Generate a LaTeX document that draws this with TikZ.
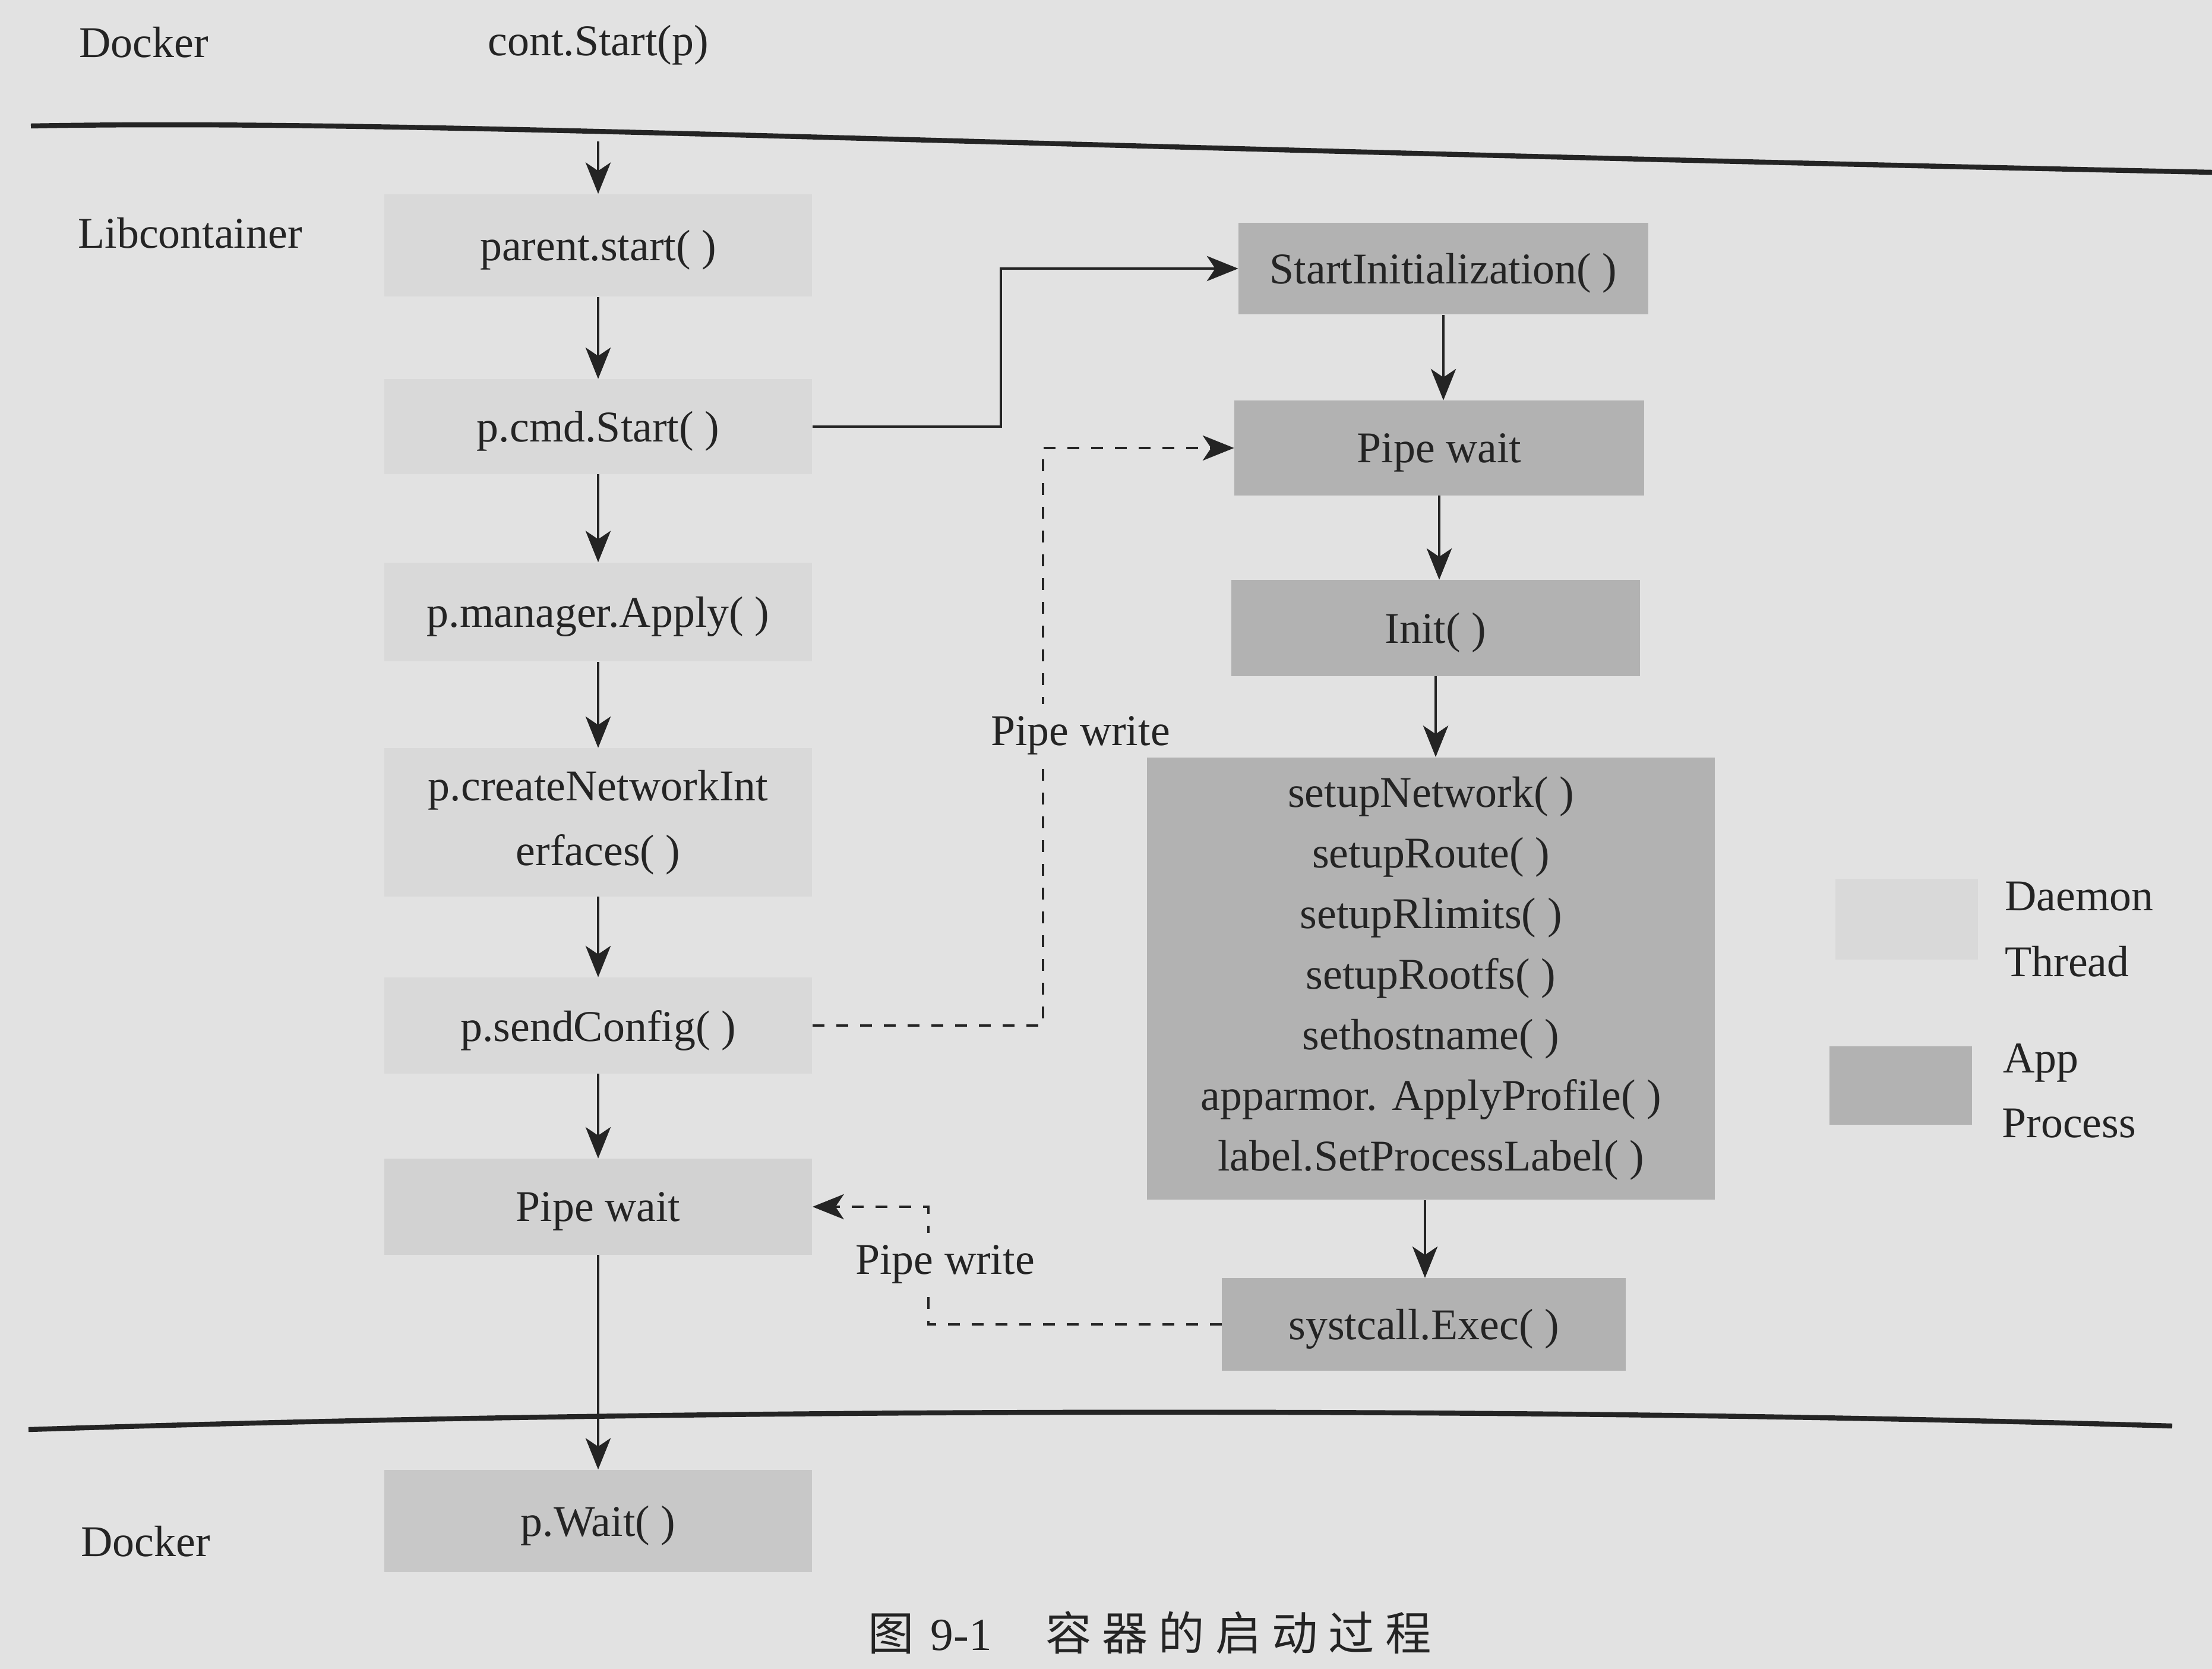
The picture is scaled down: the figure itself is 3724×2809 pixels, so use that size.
\documentclass[tikz,border=0pt]{standalone}
\usepackage{fontspec}
\setmainfont{Liberation Serif}
\newfontfamily\cjk{Noto Sans CJK SC}
\usetikzlibrary{arrows.meta}
\definecolor{paper}{RGB}{226,226,226}
\definecolor{appgray}{RGB}{178,178,178}
\definecolor{dmngray}{RGB}{217,217,217}
\definecolor{waitgray}{RGB}{210,210,210}
\definecolor{pwgray}{RGB}{200,200,200}
\definecolor{ink}{RGB}{36,36,36}
\pgfdeclarelayer{paperlayer}
\pgfdeclarelayer{connlayer}
\pgfdeclarelayer{lbllayer}
\pgfsetlayers{paperlayer,connlayer,lbllayer,main}
\begin{document}
\begin{tikzpicture}[x=0.01cm,y=-0.01cm,
  every node/.style={font=\fontsize{21}{29}\selectfont, text=ink},
  appbox/.style={fill=appgray, inner sep=0pt, text depth=0pt},
  dmnbox/.style={fill=dmngray, inner sep=0pt, text depth=0pt},
  arr/.style={draw=ink, line width=1.3pt, -{Stealth[length=15pt,width=12pt,inset=4pt]}},
  pipe/.style={draw=ink, line width=1.1pt, dash pattern=on 0.2cm off 0.2cm, -{Stealth[length=15pt,width=12pt,inset=4pt]}},
  lbl/.style={fill=paper, inner xsep=2pt, inner ysep=6pt},
  divider/.style={draw=ink, line width=2.4pt},
  legtext/.style={anchor=base west}]
\useasboundingbox (0,0) rectangle (3724,2809);
\begin{pgfonlayer}{paperlayer}
\fill[paper] (0,0) rectangle (3724,2809);
\end{pgfonlayer}

% layer labels
\node[anchor=west] (dockertop) at (121,71) {Docker};
\node[anchor=west] (libc) at (119,392) {Libcontainer};
\node[anchor=west] (dockerbot) at (124,2594) {Docker};

% left column
\node (cont) at (1007,76) {cont.Start(p)};
\node[dmnbox, minimum width=7.2cm, minimum height=1.72cm] (parent) at (1007,413) {parent.start( )};
\node[dmnbox, minimum width=7.2cm, minimum height=1.59cm] (cmd) at (1007,718) {p.cmd.Start( )};
\node[dmnbox, minimum width=7.2cm, minimum height=1.66cm] (mgr) at (1007,1030) {p.manager.Apply( )};
\node[dmnbox, minimum width=7.2cm, minimum height=2.49cm, align=center, text depth=, font=\fontsize{21}{31}\selectfont] (net) at (1007,1384) {p.createNetworkInt\\erfaces( )};
\node[dmnbox, minimum width=7.2cm, minimum height=1.61cm] (send) at (1007,1726) {p.sendConfig( )};
\node[dmnbox, fill=waitgray, minimum width=7.2cm, minimum height=1.61cm] (pwaitL) at (1007,2031) {Pipe wait};
\node[dmnbox, fill=pwgray, minimum width=7.2cm, minimum height=1.72cm] (pwt) at (1007,2560) {p.Wait( )};

% right column
\node[appbox, minimum width=6.89cm, minimum height=1.54cm] (sinit) at (2430,452) {StartInitialization( )};
\node[appbox, minimum width=6.89cm, minimum height=1.59cm] (pwaitR) at (2423,754) {Pipe wait};
\node[appbox, minimum width=6.87cm, minimum height=1.61cm] (init) at (2417,1057) {Init( )};
\node[appbox, minimum width=9.55cm, minimum height=7.44cm, align=center, text depth=] (big) at (2409,1647)
  {setupNetwork( )\\setupRoute( )\\setupRlimits( )\\setupRootfs( )\\sethostname( )\\apparmor. ApplyProfile( )\\label.SetProcessLabel( )};
\node[appbox, minimum width=6.79cm, minimum height=1.55cm] (exec) at (2397,2229) {systcall.Exec( )};

% legend
\node[dmnbox, minimum width=2.4cm, minimum height=1.35cm] (legd) at (3210,1547) {};
\node[appbox, minimum width=2.4cm, minimum height=1.31cm] (lega) at (3200,1827) {};
\node[legtext] (ld1) at (3363,1532) {Daemon};
\node[legtext] (ld2) at (3363,1643) {Thread};
\node[legtext] (la1) at (3360,1805) {App};
\node[legtext] (la2) at (3358,1914) {Process};

\begin{pgfonlayer}{connlayer}
% dividers
\draw[divider] (52,212) .. controls (700,200) and (1600,245) .. (3724,290);
\draw[divider] (48,2406) .. controls (1200,2368) and (2600,2368) .. (3657,2400);

% left arrows
\draw[arr, shorten <=1.16cm] (cont.south) -- (cont.south |- parent.north);
\draw[arr] (parent) -- (cmd);
\draw[arr] (cmd) -- (mgr);
\draw[arr] (mgr) -- (net);
\draw[arr] (net) -- (send);
\draw[arr] (send) -- (pwaitL);
\draw[arr] (pwaitL) -- (pwt);

% right arrows
\draw[arr] (sinit.south) -- (sinit.south |- pwaitR.north);
\draw[arr] (pwaitR.south) -- (pwaitR.south |- init.north);
\draw[arr] (init.south) -- (init.south |- big.north);
\draw[arr] (big.south) ++(-10,0) coordinate (bs) -- (bs |- exec.north);

% cross arrows
\draw[arr] (cmd.east) -- ++(317,0) |- (sinit.west);
\draw[pipe] (send.east) -- ++(388,0) |- (pwaitR.west);
\draw[pipe] (exec.west) -- ++(-494,0) |- (pwaitL.east);
\end{pgfonlayer}

% pipe labels
\begin{pgfonlayer}{lbllayer}
\node[lbl] (pw1) at (1819,1238) {Pipe write};
\node[lbl] (pw2) at (1591,2128) {Pipe write};
\end{pgfonlayer}

% caption
\node[anchor=west, font=\fontsize{22}{26}\selectfont] (cap) at (1449,2748)
  {{\cjk 图}\hspace{0.28cm}9-1\hspace{0.9cm}{\cjk 容\hspace{0.18cm}器\hspace{0.18cm}的\hspace{0.18cm}启\hspace{0.18cm}动\hspace{0.18cm}过\hspace{0.18cm}程}};
\end{tikzpicture}
\end{document}
